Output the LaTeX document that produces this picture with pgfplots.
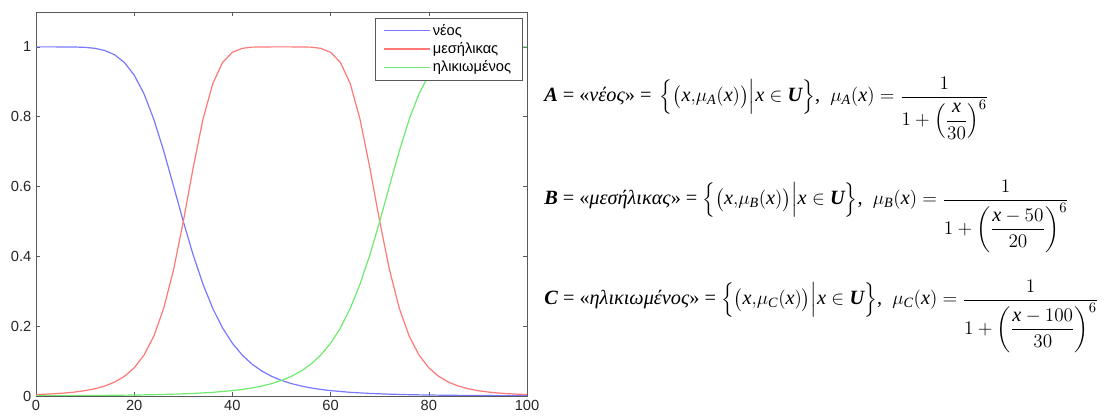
\documentclass[border=0pt]{standalone}
\usepackage{amsmath}
\usepackage{fontspec}
\setmainfont{Liberation Serif}
\newfontfamily\sansfam{Liberation Sans}
\usepackage{pgfplots}
\pgfplotsset{compat=1.18}
\definecolor{cA}{RGB}{120,120,255}
\definecolor{cB}{RGB}{255,120,120}
\definecolor{cC}{RGB}{110,235,110}
\newcommand{\X}{\mathit{x}}
\begin{document}
\begin{tikzpicture}
\useasboundingbox (-27pt,-15pt) rectangle (803.25pt,297pt);
\begin{axis}[
  at={(0,0)}, anchor=south west,
  scale only axis, width=368.25pt, height=288pt,
  xmin=0, xmax=100, ymin=0, ymax=1.1,
  xtick={0,20,40,60,80,100},
  ytick={0,0.2,0.4,0.6,0.8,1},
  tick align=inside,
  major tick length=3pt,
  axis line style={black!65},
  every tick/.style={black!65},
  /pgf/number format/assume math mode=true,
  tick label style={font=\sansfam\fontsize{11}{13}\selectfont, text=black!85},
  legend style={at={(0.99,0.985)}, anchor=north east, draw=black!65,
    font=\sansfam\fontsize{11}{13}\selectfont, inner xsep=6pt, inner ysep=2.5pt,
    row sep=0pt},
  legend cell align=left,
  legend image code/.code={\draw[#1, line width=0.9pt] (0pt,0pt) -- (34pt,0pt);},
]
\addplot[color=cA, draw=cA, line width=0.9pt] coordinates {
(0,1)(2,1)(4,1)(6,0.99994)(8,0.99964)(10,0.99863)(12,0.99592)(14,0.98978)(16,0.97750)(18,0.95542)(20,0.91929)(22,0.86541)(24,0.79231)(26,0.70236)(28,0.60203)(30,0.5)(32,0.40438)(34,0.32061)(36,0.25088)(38,0.19492)(40,0.15109)(42,0.11724)(44,0.09129)(46,0.07145)(48,0.05625)(50,0.04457)(52,0.03556)(54,0.02856)(56,0.02309)(58,0.01879)(60,0.01538)(64,0.01050)(68,0.00732)(72,0.00521)(76,0.00377)(80,0.00277)(85,0.00193)(90,0.00137)(95,0.00099)(100,0.00073)
};
\addlegendentry{νέος}
\addplot[color=cB, draw=cB, line width=0.9pt] coordinates {
(0,0.00408)(2,0.00521)(4,0.00671)(6,0.00874)(8,0.01152)(10,0.01538)(12,0.02081)(14,0.02856)(16,0.03978)(18,0.05625)(20,0.08071)(22,0.11724)(24,0.17163)(26,0.25088)(28,0.36081)(30,0.5)(32,0.65298)(34,0.79231)(36,0.89474)(38,0.95542)(40,0.98462)(42,0.99592)(44,0.99927)(46,0.99994)(48,1)(50,1)(52,1)(54,0.99994)(56,0.99927)(58,0.99592)(60,0.98462)(62,0.95542)(64,0.89474)(66,0.79231)(68,0.65298)(70,0.5)(72,0.36081)(74,0.25088)(76,0.17163)(78,0.11724)(80,0.08071)(82,0.05625)(84,0.03978)(86,0.02856)(88,0.02081)(90,0.01538)(92,0.01152)(94,0.00874)(96,0.00671)(98,0.00521)(100,0.00408)
};
\addlegendentry{μεσήλικας}
\addplot[color=cC, draw=cC, line width=0.9pt] coordinates {
(0,0.00073)(5,0.00099)(10,0.00137)(15,0.00193)(20,0.00277)(24,0.00377)(28,0.00521)(32,0.00732)(36,0.01050)(40,0.01538)(42,0.01879)(44,0.02309)(46,0.02856)(48,0.03556)(50,0.04457)(52,0.05625)(54,0.07145)(56,0.09129)(58,0.11724)(60,0.15109)(62,0.19492)(64,0.25088)(66,0.32061)(68,0.40438)(70,0.5)(72,0.60203)(74,0.70236)(76,0.79231)(78,0.86541)(80,0.91929)(82,0.95542)(84,0.97750)(86,0.98978)(88,0.99592)(90,0.99863)(92,0.99964)(94,0.99994)(96,1)(98,1)(100,1)
};
\addlegendentry{ηλικιωμένος}
\end{axis}
\begin{scope}[every node/.style={anchor=base west, inner sep=0pt, font=\fontsize{15.2}{18}\selectfont}]
\node at (381pt,220.5pt) {\textbf{\textit{A}} = «\textit{νέος}» = \,$\Bigl\{\bigl(\X{,}\mu_{\mathit{A}}(\X)\bigr)\Big|\X\in\text{\bfseries\itshape U}\Bigr\}$, \ $\mu_{\mathit{A}}(\X)=\dfrac{1}{1+\left(\dfrac{\X}{30}\right)^{6}}$};
\node at (381pt,143.25pt) {\textbf{\textit{B}} = «\textit{μεσήλικας}» = $\Bigl\{\bigl(\X{,}\mu_{\mathit{B}}(\X)\bigr)\Big|\X\in\text{\bfseries\itshape U}\Bigr\}$, \ $\mu_{\mathit{B}}(\X)=\dfrac{1}{1+\left(\dfrac{\X-50}{20}\right)^{6}}$};
\node at (381pt,68.25pt) {\textbf{\textit{C}} = «\textit{ηλικιωμένος}» = $\Bigl\{\bigl(\X{,}\mu_{\mathit{C}}(\X)\bigr)\Big|\X\in\text{\bfseries\itshape U}\Bigr\}$, \ $\mu_{\mathit{C}}(\X)=\dfrac{1}{1+\left(\dfrac{\X-100}{30}\right)^{6}}$};
\end{scope}
\end{tikzpicture}
\end{document}
